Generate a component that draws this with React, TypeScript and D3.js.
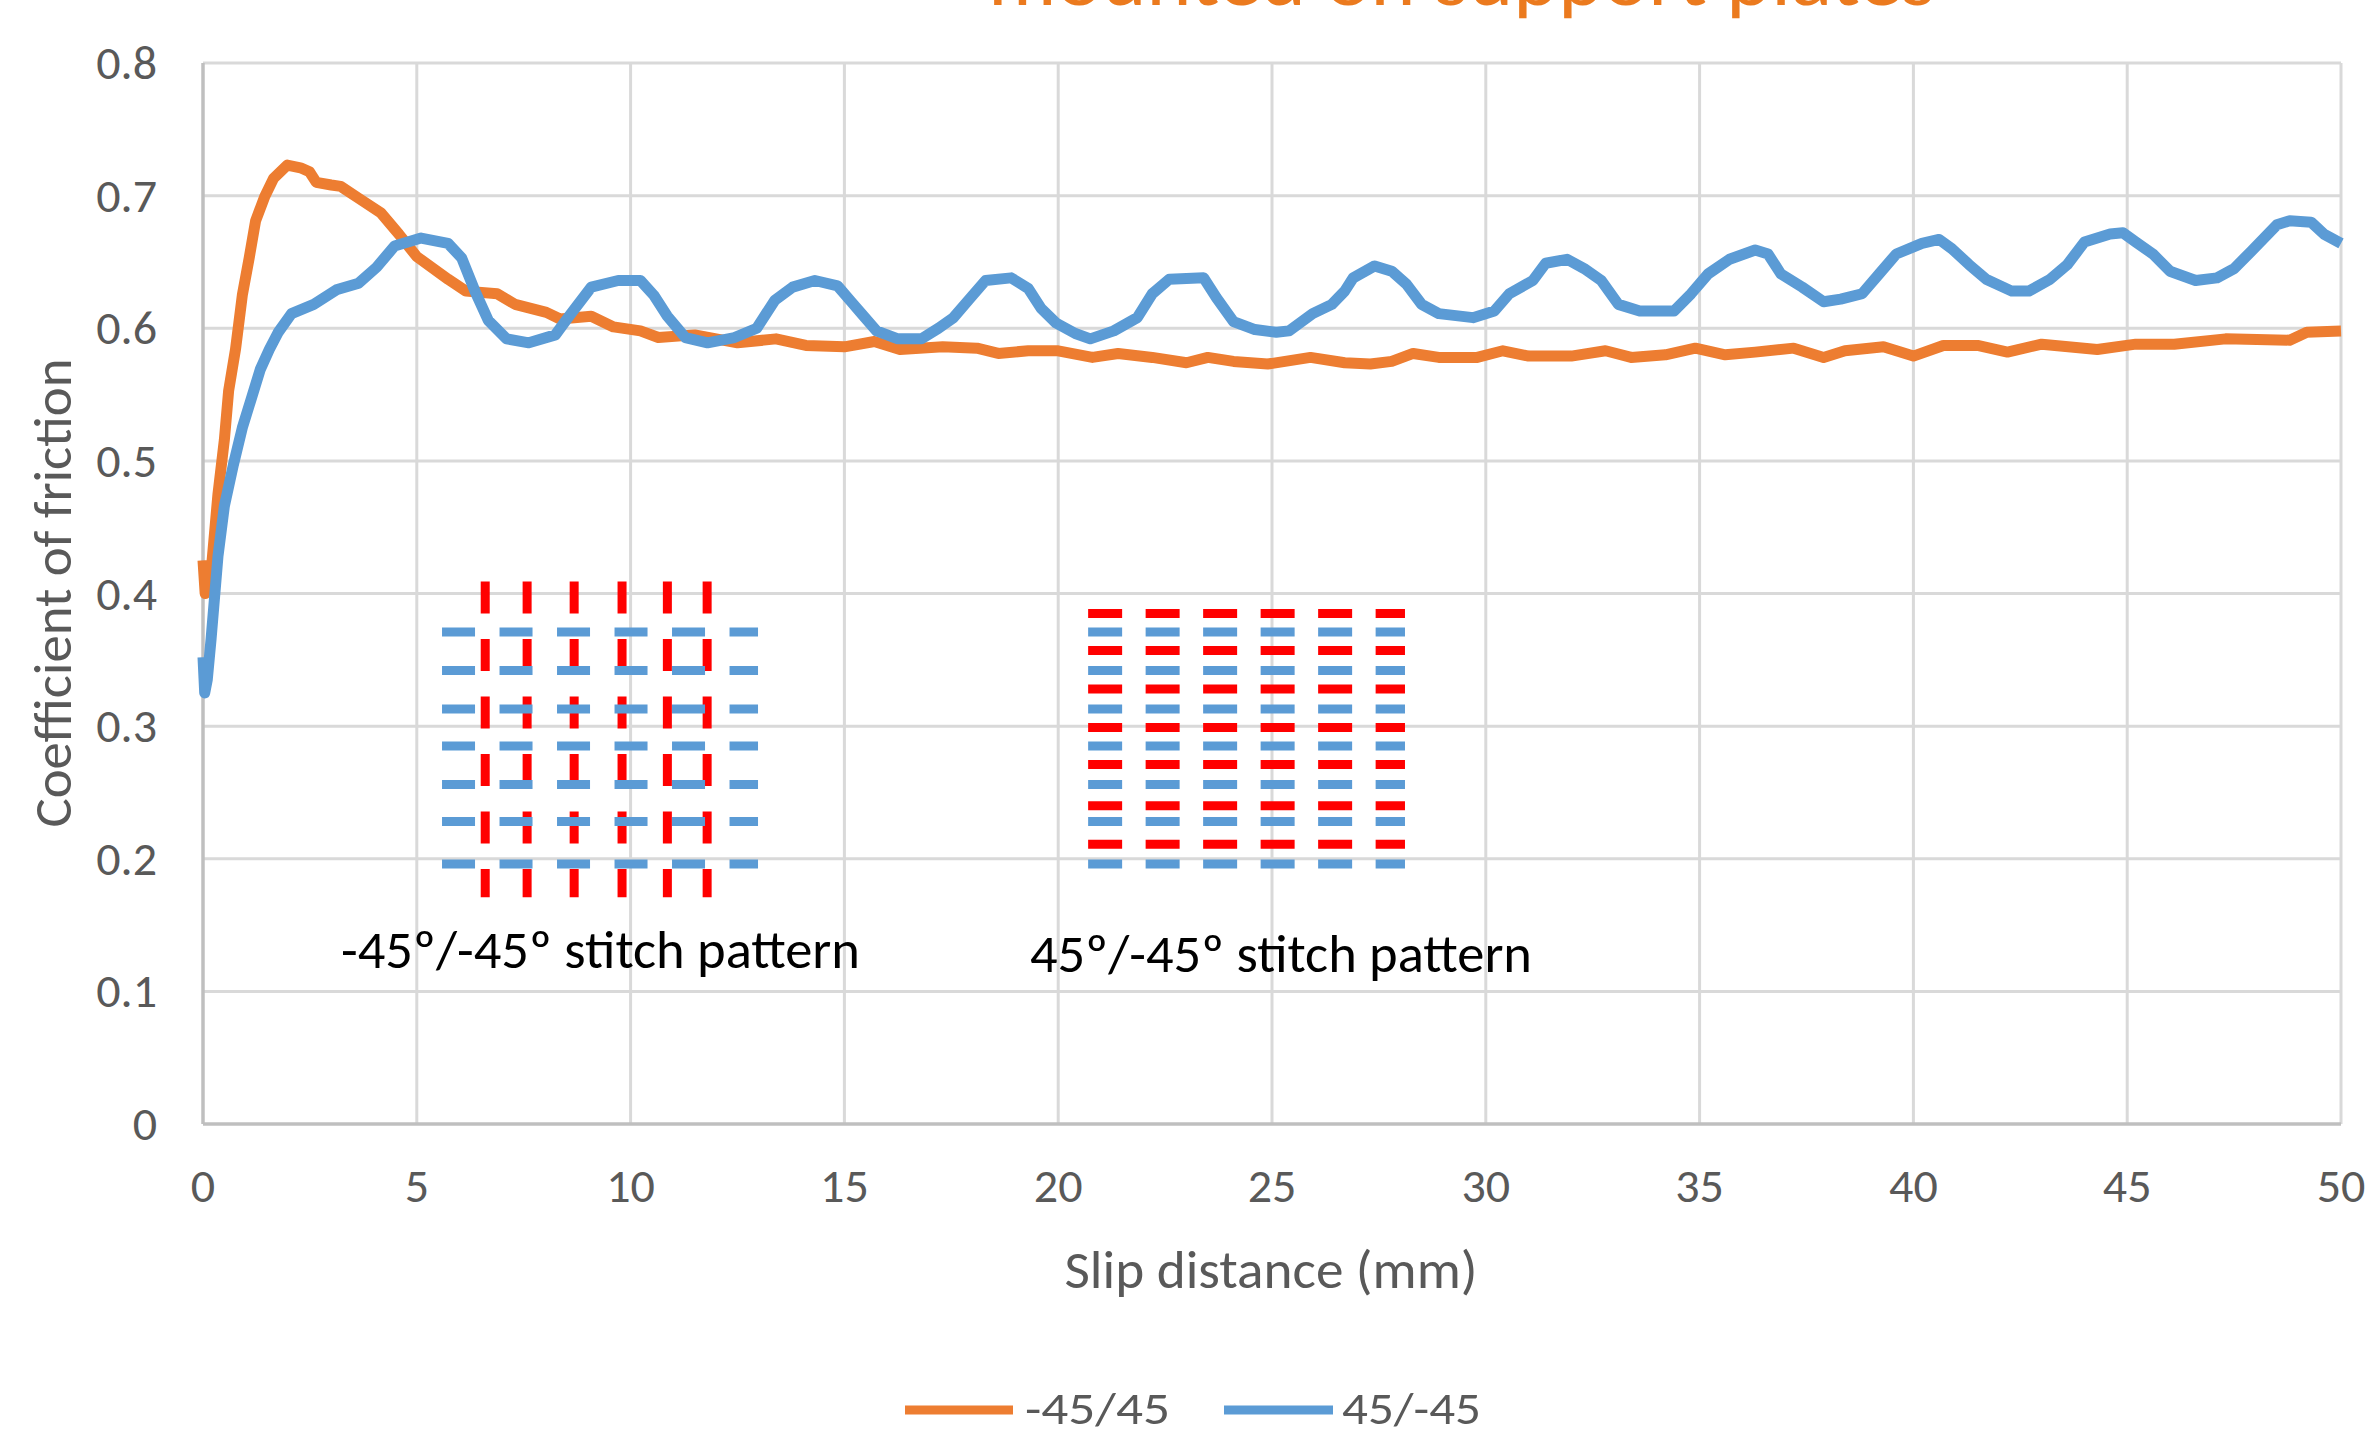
import React from "react";
import * as d3 from "d3";

const W = 2365;
const H = 1438;

const xTicks = [0, 5, 10, 15, 20, 25, 30, 35, 40, 45, 50];
const yTicks = [0, 0.1, 0.2, 0.3, 0.4, 0.5, 0.6, 0.7, 0.8];

// -45/45 (orange)
const seriesNeg45: [number, number][] = [
  [0, 0.425], [0.05, 0.4], [0.15, 0.41], [0.2, 0.42], [0.35, 0.475], [0.5, 0.516],
  [0.6, 0.553], [0.76, 0.584], [0.92, 0.625], [1.08, 0.653], [1.23, 0.681], [1.44, 0.699],
  [1.65, 0.713], [1.97, 0.723], [2.28, 0.721], [2.49, 0.718], [2.65, 0.71], [3.0, 0.708],
  [3.22, 0.707], [3.64, 0.698], [4.16, 0.687], [4.58, 0.671], [5.0, 0.654], [5.73, 0.637],
  [6.15, 0.628], [6.88, 0.626], [7.3, 0.618], [8.03, 0.612], [8.35, 0.607], [9.08, 0.609],
  [9.6, 0.601], [10.23, 0.598], [10.65, 0.593], [11.5, 0.595], [12.5, 0.589], [13.4, 0.592],
  [14.1, 0.587], [15.0, 0.586], [15.7, 0.59], [16.3, 0.584], [17.3, 0.586], [18.1, 0.585],
  [18.6, 0.581], [19.3, 0.583], [20.0, 0.583], [20.8, 0.578], [21.4, 0.581], [22.2, 0.578],
  [23.0, 0.574], [23.5, 0.578], [24.1, 0.575], [24.9, 0.573], [25.9, 0.578], [26.7, 0.574],
  [27.3, 0.573], [27.8, 0.575], [28.3, 0.581], [28.9, 0.578], [29.8, 0.578], [30.4, 0.583],
  [31.0, 0.579], [32.0, 0.579], [32.8, 0.583], [33.4, 0.578], [34.2, 0.58], [34.9, 0.585],
  [35.6, 0.58], [36.3, 0.582], [37.2, 0.585], [37.9, 0.578], [38.4, 0.583], [39.3, 0.586],
  [40.0, 0.579], [40.7, 0.587], [41.5, 0.587], [42.2, 0.582], [43.0, 0.588], [44.3, 0.584],
  [45.2, 0.588], [46.1, 0.588], [47.3, 0.592], [48.8, 0.591], [49.2, 0.597], [50.0, 0.598],
];

// 45/-45 (blue)
const seriesPos45: [number, number][] = [
  [0, 0.352], [0.04, 0.325], [0.1, 0.335], [0.19, 0.366], [0.35, 0.428], [0.5, 0.466],
  [0.71, 0.497], [0.92, 0.525], [1.13, 0.547], [1.34, 0.569], [1.55, 0.584], [1.76, 0.597],
  [2.07, 0.611], [2.59, 0.618], [3.12, 0.629], [3.64, 0.634], [4.06, 0.646], [4.48, 0.662],
  [5.1, 0.668], [5.73, 0.664], [6.05, 0.653], [6.36, 0.628], [6.67, 0.606], [7.1, 0.592],
  [7.62, 0.589], [8.24, 0.595], [8.56, 0.609], [9.08, 0.631], [9.71, 0.636], [10.23, 0.636],
  [10.54, 0.625], [10.86, 0.609], [11.28, 0.593], [11.8, 0.589], [12.43, 0.593], [12.95, 0.6],
  [13.37, 0.621], [13.79, 0.631], [14.31, 0.636], [14.84, 0.632], [15.16, 0.62], [15.4, 0.611],
  [15.75, 0.598], [16.25, 0.592], [16.8, 0.592], [17.2, 0.6], [17.55, 0.608], [17.95, 0.623],
  [18.3, 0.636], [18.9, 0.638], [19.3, 0.63], [19.6, 0.615], [19.95, 0.604], [20.4, 0.596],
  [20.75, 0.592], [21.3, 0.598], [21.85, 0.608], [22.2, 0.626], [22.6, 0.637], [23.4, 0.638],
  [23.7, 0.623], [24.1, 0.605], [24.6, 0.599], [25.1, 0.597], [25.4, 0.598], [25.95, 0.611],
  [26.4, 0.618], [26.7, 0.628], [26.9, 0.638], [27.4, 0.647], [27.8, 0.643], [28.15, 0.633],
  [28.5, 0.618], [28.9, 0.611], [29.7, 0.608], [30.2, 0.613], [30.55, 0.626], [31.1, 0.636],
  [31.4, 0.649], [31.9, 0.652], [32.3, 0.645], [32.7, 0.636], [33.1, 0.618], [33.6, 0.613],
  [34.4, 0.613], [34.8, 0.626], [35.2, 0.641], [35.7, 0.652], [36.3, 0.659], [36.6, 0.656],
  [36.9, 0.641], [37.4, 0.631], [37.9, 0.62], [38.3, 0.622], [38.8, 0.626], [39.2, 0.641],
  [39.6, 0.656], [40.2, 0.664], [40.6, 0.667], [40.9, 0.66], [41.3, 0.648], [41.7, 0.637],
  [42.3, 0.628], [42.7, 0.628], [43.2, 0.637], [43.6, 0.648], [44.0, 0.665], [44.6, 0.671],
  [44.9, 0.672], [45.2, 0.665], [45.6, 0.656], [46.0, 0.643], [46.6, 0.636], [47.1, 0.638],
  [47.5, 0.645], [47.9, 0.658], [48.5, 0.678], [48.8, 0.681], [49.3, 0.68], [49.6, 0.671],
  [50.0, 0.664],
];

// stitch pattern sketches, in data units
const crossRedCols = [6.6, 7.58, 8.68, 9.8, 10.86, 11.79];
const crossRedSpan = [0.409, 0.171];
const blueRows = [0.371, 0.342, 0.313, 0.285, 0.256, 0.228, 0.196];
const crossBlueSpan = [5.59, 12.98];
const parallelRedRows = [0.385, 0.357, 0.328, 0.299, 0.271, 0.24, 0.211];
const parallelSpan = [20.7, 28.11];

const ORANGE = "#ED7D31";
const BLUE = "#5B9BD5";
const RED = "#FF0000";
const FONT = "Carlito, Calibri, Lato, sans-serif";

export default function App() {
  const x = d3.scaleLinear().domain([0, 50]).range([203, 2341]);
  const y = d3.scaleLinear().domain([0, 0.8]).range([1124, 63]);
  const line = d3
    .line<[number, number]>()
    .x((d) => x(d[0]))
    .y((d) => y(d[1]));

  return (
    <svg
      width={W}
      height={H}
      style={{ position: "absolute", left: 0, top: 0, background: "#fff" }}
      fontFamily={FONT}
    >
      <rect width={W} height={H} fill="#fff" />
      {/* title, cut at the top like the reference */}
      <text x={988} y={5} fontSize={80} fill="#EB7A1E" textLength={947} lengthAdjust="spacingAndGlyphs">
        mounted on support plates
      </text>

      {/* grid */}
      {yTicks.slice(1).map((t) => (
        <line key={"gy" + t} x1={x(0)} x2={x(50)} y1={y(t)} y2={y(t)} stroke="#D9D9D9" strokeWidth={3} />
      ))}
      {xTicks.slice(1).map((t) => (
        <line key={"gx" + t} x1={x(t)} x2={x(t)} y1={y(0.8)} y2={y(0)} stroke="#D9D9D9" strokeWidth={3} />
      ))}
      <line x1={x(0)} x2={x(0)} y1={y(0.8)} y2={y(0)} stroke="#BFBFBF" strokeWidth={3.5} />
      <line x1={x(0)} x2={x(50)} y1={y(0)} y2={y(0)} stroke="#BFBFBF" strokeWidth={3.5} />

      {/* tick labels */}
      {yTicks.map((t) => (
        <text key={"ty" + t} x={157} y={y(t) + 16} textAnchor="end" fontSize={48} fill="#595959">
          {t === 0 ? "0" : t.toFixed(1)}
        </text>
      ))}
      {xTicks.map((t) => (
        <text key={"tx" + t} x={x(t)} y={1202} textAnchor="middle" fontSize={48} fill="#595959">
          {t}
        </text>
      ))}

      {/* axis titles */}
      <text
        transform="translate(71,593) rotate(-90)"
        textAnchor="middle"
        fontSize={54}
        fill="#595959"
        textLength={469}
        lengthAdjust="spacingAndGlyphs"
      >
        Coefficient of friction
      </text>
      <text x={1271} y={1288} textAnchor="middle" fontSize={54} fill="#595959" textLength={413} lengthAdjust="spacingAndGlyphs">
        Slip distance (mm)
      </text>

      {/* stitch sketch: -45/-45 */}
      {crossRedCols.map((c) => (
        <line
          key={"rc" + c}
          x1={x(c)}
          x2={x(c)}
          y1={y(crossRedSpan[0])}
          y2={y(crossRedSpan[1])}
          stroke={RED}
          strokeWidth={9}
          strokeDasharray="32 25.5"
        />
      ))}
      {blueRows.map((r) => (
        <line
          key={"cb" + r}
          x1={x(crossBlueSpan[0])}
          x2={x(crossBlueSpan[1])}
          y1={y(r)}
          y2={y(r)}
          stroke={BLUE}
          strokeWidth={9}
          strokeDasharray="33 24.5"
        />
      ))}
      <text x={341} y={968} fontSize={54} fill="#000" textLength={519} lengthAdjust="spacingAndGlyphs">
        -45º/-45º stitch pattern
      </text>

      {/* stitch sketch: 45/-45 */}
      {parallelRedRows.map((r) => (
        <line
          key={"pr" + r}
          x1={x(parallelSpan[0])}
          x2={x(parallelSpan[1])}
          y1={y(r)}
          y2={y(r)}
          stroke={RED}
          strokeWidth={9}
          strokeDasharray="34 23.5"
        />
      ))}
      {blueRows.map((r) => (
        <line
          key={"pb" + r}
          x1={x(parallelSpan[0])}
          x2={x(parallelSpan[1])}
          y1={y(r)}
          y2={y(r)}
          stroke={BLUE}
          strokeWidth={9}
          strokeDasharray="34 23.5"
        />
      ))}
      <text x={1030} y={972} fontSize={54} fill="#000" textLength={502} lengthAdjust="spacingAndGlyphs">
        45º/-45º stitch pattern
      </text>

      {/* series */}
      <path d={line(seriesNeg45) || ""} fill="none" stroke={ORANGE} strokeWidth={11} strokeLinejoin="round" />
      <path d={line(seriesPos45) || ""} fill="none" stroke={BLUE} strokeWidth={11} strokeLinejoin="round" />

      {/* legend */}
      <line x1={905} x2={1013} y1={1410} y2={1410} stroke={ORANGE} strokeWidth={9} />
      <text x={1025} y={1424} fontSize={46} fill="#595959" textLength={145} lengthAdjust="spacingAndGlyphs">
        -45/45
      </text>
      <line x1={1224} x2={1333} y1={1410} y2={1410} stroke={BLUE} strokeWidth={9} />
      <text x={1342} y={1424} fontSize={46} fill="#595959" textLength={139} lengthAdjust="spacingAndGlyphs">
        45/-45
      </text>
    </svg>
  );
}
